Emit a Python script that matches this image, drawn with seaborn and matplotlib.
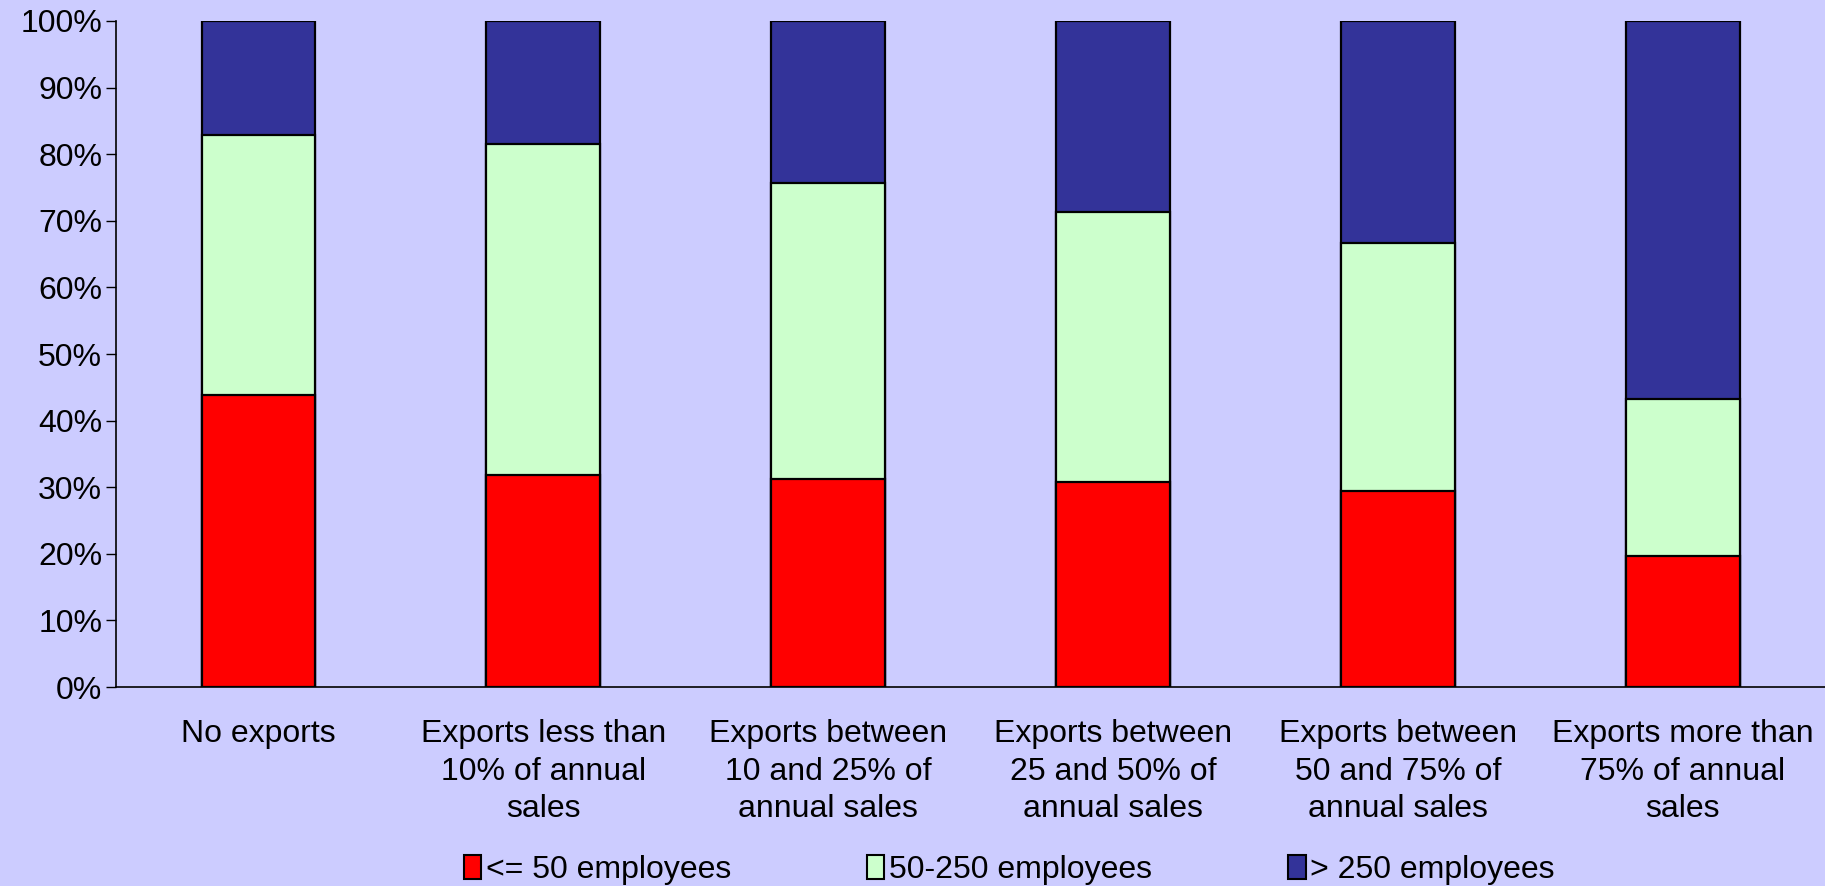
import matplotlib
matplotlib.use("Agg")
import matplotlib.pyplot as plt
import matplotlib.patches as mpatches
from matplotlib.ticker import FuncFormatter
import seaborn as sns
import pandas as pd
import numpy as np

categories = ["No exports",
              "Exports less than\n10% of annual\nsales",
              "Exports between\n10 and 25% of\nannual sales",
              "Exports between\n25 and 50% of\nannual sales",
              "Exports between\n50 and 75% of\nannual sales",
              "Exports more than\n75% of annual\nsales"]
small = [43.9, 31.8, 31.3, 30.8, 29.4, 19.6]
medium = [39.0, 49.8, 44.4, 40.5, 37.2, 23.6]
large = [100 - s - m for s, m in zip(small, medium)]
series = ["<= 50 employees", "50-250 employees", "> 250 employees"]
colors = ["#FF0000", "#CCFFCC", "#333399"]
bg = "#CCCCFF"

sns.set_style("white")
plt.rcParams['font.family'] = ['Liberation Sans', 'DejaVu Sans']
plt.rcParams['text.color'] = 'black'
plt.rcParams['xtick.color'] = 'black'
plt.rcParams['ytick.color'] = 'black'

fig = plt.figure(figsize=(18.25, 8.86), dpi=100, facecolor=bg)
ax = fig.add_axes([0.0636, 0.2246, 0.9364, 0.7517])
ax.set_facecolor(bg)

df = pd.DataFrame({"cat": categories, "small": small, "medium": medium, "large": large})
df["top"] = df["small"] + df["medium"] + df["large"]
df["mid"] = df["small"] + df["medium"]

# stacked by overdrawing cumulative heights
for col, c in zip(["top", "mid", "small"], colors[::-1]):
    sns.barplot(data=df, x="cat", y=col, color=c, width=0.4, edgecolor="black",
                linewidth=1.6, saturation=1, ax=ax)

ax.set_xlim(-0.5, 5.5)
ax.set_ylim(0, 100)
ax.set_yticks(np.arange(0, 101, 10))
ax.yaxis.set_major_formatter(FuncFormatter(lambda v, p: f"{int(v)}%"))
ax.set_xticks(range(6))
ax.set_xticklabels(categories, fontsize=23, linespacing=1.33)
ax.set_xticks(np.arange(-0.5, 6, 1), minor=True)
ax.tick_params(axis="x", which="major", length=0, pad=23, labelcolor="black")
ax.tick_params(axis="x", which="minor", length=7, width=1, color="black", direction="out")
ax.tick_params(axis="y", length=7, width=1, color="black", direction="out", pad=3,
               labelsize=23, left=True, labelcolor="black")
ax.set_xlabel("")
ax.set_ylabel("")
for s in ["top", "right"]:
    ax.spines[s].set_visible(False)
for s in ["left", "bottom"]:
    ax.spines[s].set_color("black")
    ax.spines[s].set_linewidth(1.2)

handles = [mpatches.Patch(facecolor=c, edgecolor="black", linewidth=1.5, label=l)
           for c, l in zip(colors, series)]
fig.legend(handles=handles, loc="center", bbox_to_anchor=(0.553, 0.018), ncol=3,
           frameon=False, fontsize=23, handlelength=0.55, handleheight=0.75,
           handletextpad=0.15, columnspacing=4.25, borderaxespad=0, labelcolor="black")

fig.savefig("out.png", dpi=100, facecolor=bg)
